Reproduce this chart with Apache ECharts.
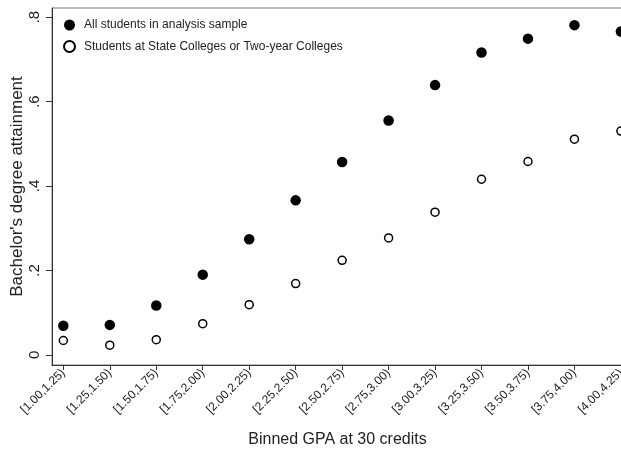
<!DOCTYPE html>
<html>
<head>
<meta charset="utf-8">
<script src="https://cdn.jsdelivr.net/npm/echarts@6/dist/echarts.min.js"></script>
<style>html,body{margin:0;padding:0;background:#fff}#c{width:621px;height:450px}</style>
</head>
<body>
<div id="c"></div>
<script>
const categories = ["[1.00,1.25)","[1.25,1.50)","[1.50,1.75)","[1.75,2.00)","[2.00,2.25)","[2.25,2.50)","[2.50,2.75)","[2.75,3.00)","[3.00,3.25)","[3.25,3.50)","[3.50,3.75)","[3.75,4.00)","[4.00,4.25)"];
const allStudents = [0.069, 0.071, 0.117, 0.190, 0.274, 0.366, 0.457, 0.555, 0.639, 0.716, 0.749, 0.781, 0.766];
const stateTwoYear = [0.034, 0.023, 0.036, 0.074, 0.119, 0.169, 0.224, 0.277, 0.338, 0.416, 0.458, 0.511, 0.530];
const yTicks = [0, 0.2, 0.4, 0.6, 0.8];
const yTickLabels = ["0", ".2", ".4", ".6", ".8"];
const seriesNames = ["All students in analysis sample", "Students at State Colleges or Two-year Colleges"];

const font = "'Liberation Sans', Arial, sans-serif";
const idx = categories.map((_, i) => i);
const chart = echarts.init(document.getElementById('c'), null, {renderer: 'canvas'});
chart.setOption({
  animation: false,
  backgroundColor: '#fff',
  grid: {left: 52, top: 8, right: -2, bottom: 85, show: true, borderColor: '#777', borderWidth: 1,
         containLabel: false, outerBoundsMode: 'none'},
  legend: {
    orient: 'vertical', left: 58, top: 14, itemGap: 9, itemWidth: 11, itemHeight: 11,
    textStyle: {fontFamily: font, fontSize: 12, color: '#222', padding: [0, 0, 0, 4]},
    data: seriesNames.map(n => ({name: n, icon: 'circle'}))
  },
  xAxis: {
    type: 'value', min: -0.244, max: 12.045,
    name: 'Binned GPA at 30 credits', nameLocation: 'middle', nameGap: 67, nameMoveOverlap: false,
    nameTextStyle: {fontFamily: font, fontSize: 16, color: '#222'},
    axisLine: {show: true, onZero: false, lineStyle: {color: '#333', width: 1}},
    axisTick: {show: true, customValues: idx, length: 5, lineStyle: {color: '#333'}},
    axisLabel: {customValues: idx, rotate: 45, margin: 6, fontFamily: font, fontSize: 12, color: '#222',
      hideOverlap: false, formatter: v => categories[Math.round(v)]},
    splitLine: {show: false}
  },
  yAxis: {
    type: 'value', min: -0.024, max: 0.8216,
    name: "Bachelor's degree attainment", nameLocation: 'middle', nameGap: 26, nameMoveOverlap: false,
    nameTextStyle: {fontFamily: font, fontSize: 17, color: '#222'},
    axisLine: {show: true, onZero: false, lineStyle: {color: '#333', width: 1}},
    axisTick: {show: true, customValues: yTicks, length: 6, lineStyle: {color: '#333'}},
    axisLabel: {customValues: yTicks, rotate: 90, margin: 10, fontFamily: font, fontSize: 15, color: '#222',
      formatter: v => yTickLabels[yTicks.findIndex(t => Math.abs(t - v) < 1e-6)]},
    splitLine: {show: false}
  },
  series: [
    {name: seriesNames[0], type: 'scatter', symbol: 'circle', symbolSize: 10.5,
     itemStyle: {color: '#000', opacity: 1},
     data: allStudents.map((v, i) => [i, v])},
    {name: seriesNames[1], type: 'scatter', symbol: 'circle', symbolSize: 8,
     itemStyle: {color: '#fff', borderColor: '#000', borderWidth: 1.5, opacity: 1},
     data: stateTwoYear.map((v, i) => [i, v])}
  ]
});
</script>
</body>
</html>
